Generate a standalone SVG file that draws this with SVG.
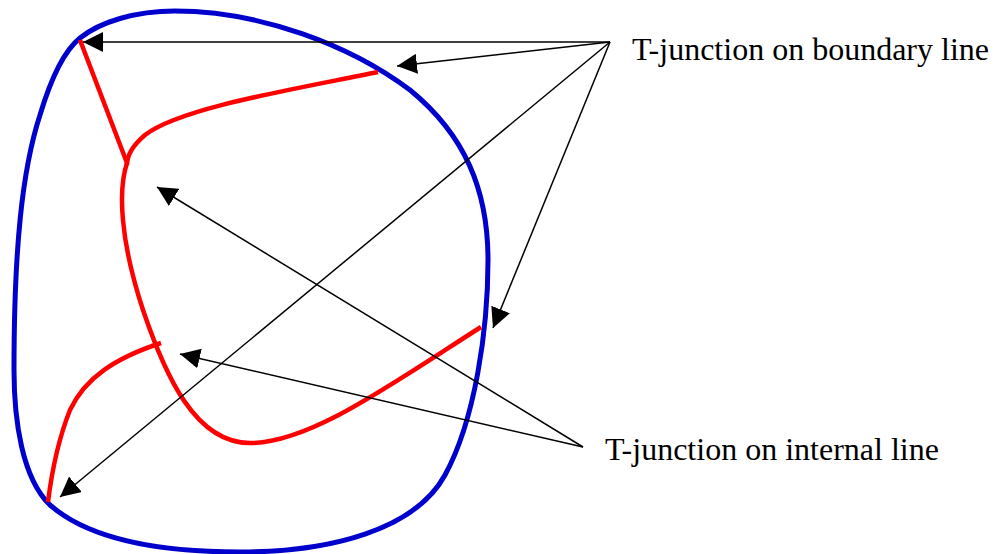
<svg xmlns="http://www.w3.org/2000/svg" width="997" height="554" viewBox="0 0 997 554">
<style>
.blue{fill:none;stroke:#0000cc;stroke-width:5}
.red{fill:none;stroke:#ff0000;stroke-width:4.5}
.arr{stroke:#000;stroke-width:1.5;fill:none;marker-end:url(#ah)}
.lbl{font-family:"Liberation Serif","Times New Roman",serif;font-size:32px;fill:#000}
</style>
<defs>
<marker id="ah" markerUnits="userSpaceOnUse" markerWidth="20" markerHeight="20" refX="20" refY="10" orient="auto">
<path d="M0,0 L20,10 L0,20 Z" fill="#000"/>
</marker>
</defs>
<g id="boundary">
<path class="blue" d="M80,38 C100,22 135,11 175,11 C260,11 350,45 410,90 C465,135 488,190 488,260 C488,330 475,420 445,475 C415,530 330,552 240,552 C160,552 90,540 50,505 C22,478 14,420 14,370 C14,250 22,170 40,115 C52,75 65,50 80,38 Z"/>
</g>
<g id="internal-lines">
<path class="red" d="M80,40 L127,163"/>
<path class="red" d="M378,72 C290,90 180,108 145,135 C132,146 127,155 127,165"/>
<path class="red" d="M127,163 C118,190 120,240 143,310 C165,375 195,443 250,443 C310,443 390,385 481,327"/>
<path class="red" d="M161,343 C115,358 85,378 70,410 C58,440 52,470 48,502"/>
</g>
<g id="connectors">
<line class="arr" x1="610" y1="42" x2="83" y2="42"/>
<line class="arr" x1="610" y1="42" x2="397" y2="66"/>
<line class="arr" x1="610" y1="42" x2="60" y2="497"/>
<line class="arr" x1="610" y1="42" x2="493" y2="328"/>
<line class="arr" x1="583" y1="447" x2="157" y2="187"/>
<line class="arr" x1="583" y1="447" x2="180" y2="354"/>
</g>
<g id="label-boundary">
<text class="lbl" x="632" y="60">T-junction on boundary line</text>
</g>
<g id="label-internal">
<text class="lbl" x="605" y="460">T-junction on internal line</text>
</g>
</svg>
